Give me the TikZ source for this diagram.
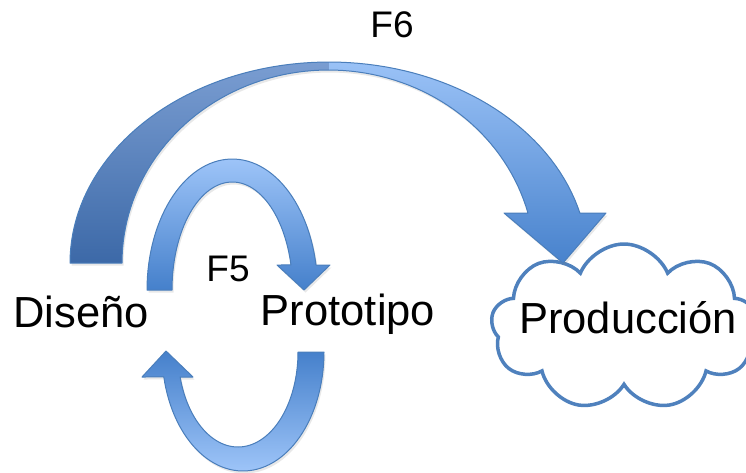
\documentclass[tikz,border=0pt]{standalone}
\usepackage{fontspec}
\setmainfont{Liberation Sans}
\usetikzlibrary{shapes.symbols,shadows}
\definecolor{edgeblue}{HTML}{4A7EBB}
\definecolor{cloudblue}{HTML}{4F81BD}
\definecolor{darktop}{HTML}{7C9FD3}
\definecolor{darkbot}{HTML}{3A67A6}
\definecolor{lighttop}{HTML}{9DC4F8}
\definecolor{lightbot}{HTML}{4580CB}
\tikzset{
  arrowshape/.style={draw=edgeblue, line width=1pt, line join=round,
    drop shadow={opacity=0.18, shadow xshift=1.5pt, shadow yshift=-2.5pt}},
  lbl/.style={font=\fontsize{43.5}{52}\selectfont, inner sep=0pt, anchor=base},
  smalllbl/.style={font=\fontsize{37}{44}\selectfont, inner sep=0pt, anchor=base},
}
\begin{document}
\begin{tikzpicture}[x=1pt,y=-1pt]
\useasboundingbox (0,0) rectangle (746,472);

% cloud
\node[cloud, draw=cloudblue, fill=white, line width=3.5pt, cloud puffs=9,
      cloud puff arc=135, aspect=1.6, minimum width=266pt, minimum height=166pt,
      inner sep=0pt] (prodcloud) at (624,327) {};

% F6 big arrow
\draw[arrowshape, path picture={
    \shade[top color=darktop, bottom color=darkbot] (60,55) rectangle (329,270);
    \shade[top color=lighttop, bottom color=lightbot] (329,55) rectangle (615,270);}]
  (70,263) -- plot[domain=180:14.4, samples=80, variable=\t] ({329+259*cos(\t)},{263-201*sin(\t)})
  -- (606,213) -- (563,263) -- (504,213)
  -- plot[domain=15.0:180, samples=80, variable=\t] ({328.5+206.5*cos(\t)},{263-193*sin(\t)})
  -- cycle;

% F5 arrow (top)
\draw[arrowshape, top color=lighttop, bottom color=lightbot]
  (147,290) -- plot[domain=180:11.0, samples=60, variable=\t] ({232.3+85.3*cos(\t)},{290-131*sin(\t)})
  -- (330,265) -- (304,290) -- (277,265)
  -- plot[domain=13.4:180, samples=60, variable=\t] ({232.3+60.3*cos(\t)},{290-108*sin(\t)})
  -- cycle;

% bottom U arrow
\draw[arrowshape, top color=lightbot, bottom color=lighttop]
  (324,352) -- plot[domain=360:192.1, samples=60, variable=\t] ({243+81*cos(\t)},{352-119*sin(\t)})
  -- (142,377) -- (166,351) -- (193,377)
  -- plot[domain=195.3:360, samples=60, variable=\t] ({238+60*cos(\t)},{352-95*sin(\t)})
  -- cycle;

% labels
\node[smalllbl] (f6) at (392,37) {F6};
\node[smalllbl] (f5) at (228,281) {F5};
\node[lbl] (diseno) at (81,327) {Diseño};
\node[lbl] (prototipo) at (348,325) {Prototipo};
\node[lbl] (produccion) at (628,333) {Producción};
\end{tikzpicture}
\end{document}
